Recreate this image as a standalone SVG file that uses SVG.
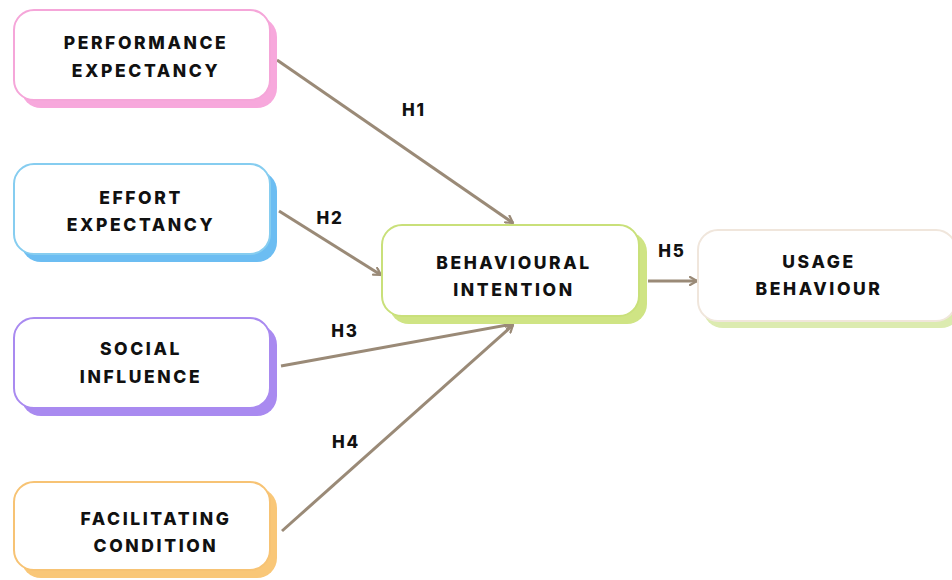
<svg xmlns="http://www.w3.org/2000/svg" width="952" height="580" viewBox="0 0 952 580">
  <defs>
    <style>
      .lbl { font-family: Inter, "Liberation Sans", sans-serif; font-weight: 800; font-size: 17.5px; letter-spacing: 2.6px; fill: #111; text-anchor: middle; }
      .h { font-family: Inter, "Liberation Sans", sans-serif; font-weight: 800; font-size: 17px; letter-spacing: 1.8px; fill: #111; text-anchor: middle; }
      .face { fill: #fff; stroke-width: 2; }
      .link { stroke: #9a8a77; stroke-width: 3; fill: none; marker-end: url(#arrow); }
    </style>
    <marker id="arrow" viewBox="0 0 10 10" refX="8" refY="5" markerWidth="10" markerHeight="10" markerUnits="userSpaceOnUse" orient="auto">
      <path d="M1,1 L8,5 L1,9" fill="none" stroke="#9a8a77" stroke-width="2.2" stroke-linecap="round" stroke-linejoin="round"/>
    </marker>
  </defs>
  <rect width="952" height="580" fill="#fff"/>

  <g id="connectors">
    <line class="link" x1="277" y1="60" x2="513" y2="223"/>
    <line class="link" x1="279" y1="211" x2="381" y2="275"/>
    <line class="link" x1="281" y1="366" x2="513" y2="324"/>
    <line class="link" x1="282" y1="531" x2="513" y2="325"/>
    <line class="link" x1="648" y1="281" x2="697" y2="281"/>
  </g>

  <g id="hypotheses">
    <text class="h" x="414" y="116">H1</text>
    <text class="h" x="330" y="224">H2</text>
    <text class="h" x="345" y="337">H3</text>
    <text class="h" x="346" y="448">H4</text>
    <text class="h" x="672" y="257">H5</text>
  </g>

  <g id="performance-expectancy">
    <rect x="21" y="17" width="256" height="91" rx="20" fill="#f7a8dc"/>
    <rect class="face" x="14" y="10" width="256" height="90" rx="20" stroke="#f5a6d9"/>
    <text class="lbl" x="146" y="49">PERFORMANCE</text>
    <text class="lbl" x="146" y="77">EXPECTANCY</text>
  </g>

  <g id="effort-expectancy">
    <rect x="21" y="171" width="256" height="91" rx="20" fill="#6cbdf2"/>
    <rect class="face" x="14" y="164" width="256" height="90" rx="20" stroke="#86cdf0"/>
    <text class="lbl" x="141" y="204">EFFORT</text>
    <text class="lbl" x="141" y="231">EXPECTANCY</text>
  </g>

  <g id="social-influence">
    <rect x="21" y="325" width="256" height="91" rx="20" fill="#a98af0"/>
    <rect class="face" x="14" y="318" width="256" height="90" rx="20" stroke="#a98af0"/>
    <text class="lbl" x="141" y="355">SOCIAL</text>
    <text class="lbl" x="141" y="383">INFLUENCE</text>
  </g>

  <g id="facilitating-condition">
    <rect x="21" y="488" width="256" height="90" rx="20" fill="#f9c778"/>
    <rect class="face" x="14" y="482" width="256" height="88" rx="20" stroke="#f7c374"/>
    <text class="lbl" x="156" y="525">FACILITATING</text>
    <text class="lbl" x="156" y="552">CONDITION</text>
  </g>

  <g id="behavioural-intention">
    <rect x="389" y="232" width="258" height="92" rx="20" fill="#cfe484"/>
    <rect class="face" x="382" y="225" width="257" height="91" rx="20" stroke="#c9e07a"/>
    <text class="lbl" x="514" y="269">BEHAVIOURAL</text>
    <text class="lbl" x="514" y="296">INTENTION</text>
  </g>

  <g id="usage-behaviour">
    <rect x="703" y="236" width="258" height="92" rx="20" fill="#dcebb0"/>
    <rect class="face" x="698" y="230" width="258" height="91" rx="20" stroke="#f0e6dc"/>
    <text class="lbl" x="819" y="268">USAGE</text>
    <text class="lbl" x="819" y="295">BEHAVIOUR</text>
  </g>
</svg>
